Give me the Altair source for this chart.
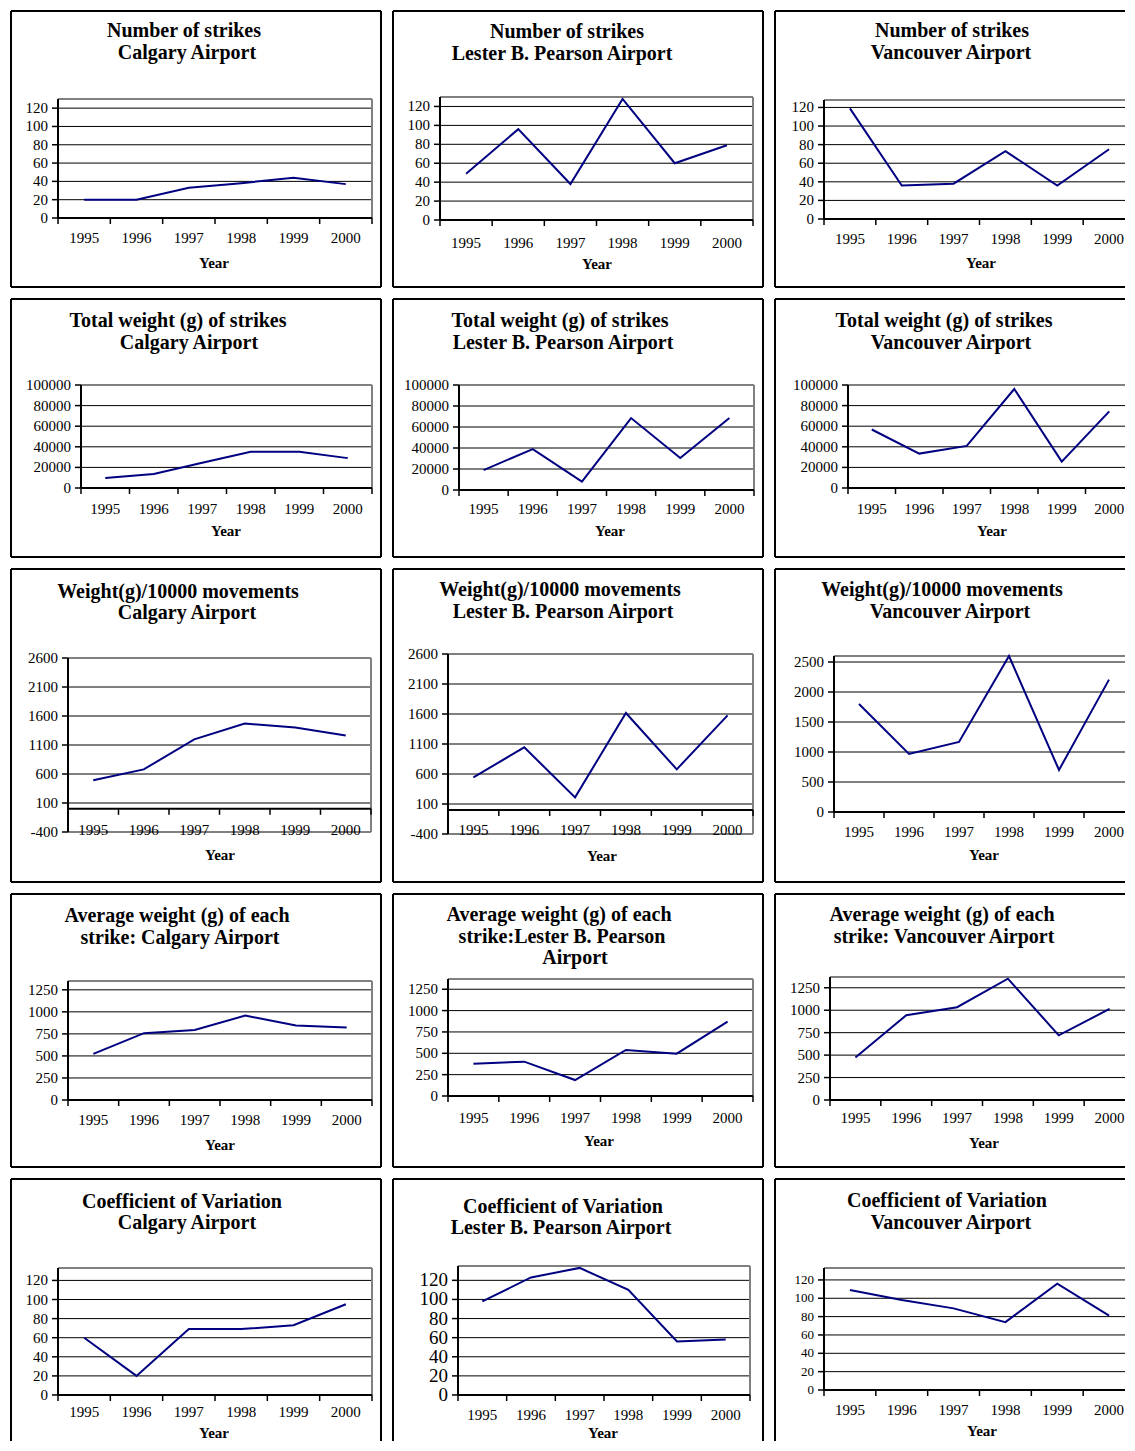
import altair as alt
import pandas as pd

# ---------------- data ----------------
years = ["1995", "1996", "1997", "1998", "1999", "2000"]

strikes_calgary = [20, 20, 33, 38, 44, 37]
strikes_pearson = [49, 96, 38, 128, 60, 79]
strikes_vancouver = [119, 36, 38, 73, 36, 75]

weight_calgary = [9800, 13700, 24500, 35200, 35200, 29000]
weight_pearson = [19000, 39000, 8000, 68500, 30500, 68500]
weight_vancouver = [56800, 33400, 40900, 96100, 25600, 74400]

per10k_calgary = [494, 679, 1198, 1470, 1400, 1262]
per10k_pearson = [544, 1044, 211, 1617, 678, 1578]
per10k_vancouver = [1800, 967, 1167, 2600, 700, 2206]

avg_calgary = [523, 758, 795, 958, 845, 822]
avg_pearson = [379, 402, 187, 539, 496, 871]
avg_vancouver = [474, 944, 1034, 1351, 720, 1015]

cov_calgary = [60, 20, 69, 69, 73, 95]
cov_pearson = [98, 123, 133, 110, 56, 58]
cov_vancouver = [109, 98, 89, 74, 116, 81]

ticks_strikes = [0, 20, 40, 60, 80, 100, 120]
ticks_weight = [0, 20000, 40000, 60000, 80000, 100000]
ticks_per10k_low = [-400, 100, 600, 1100, 1600, 2100, 2600]
ticks_per10k = [0, 500, 1000, 1500, 2000, 2500]
ticks_avg = [0, 250, 500, 750, 1000, 1250]
ticks_cov = [0, 20, 40, 60, 80, 100, 120]

titles_strikes = ["Number of strikes"]
titles_weight = ["Total weight (g) of strikes"]
titles_per10k = ["Weight(g)/10000 movements"]
titles_avg = ["Average weight (g) of each"]
titles_cov = ["Coefficient of Variation"]
airports = ["Calgary Airport", "Lester B. Pearson Airport", "Vancouver Airport"]
x_title = "Year"

# ---------------- style ----------------
FONT = "Liberation Serif"
NAVY = "#000080"
GRAY = "#808080"
COL_W = [372, 372, 352]
ROW_H = [278, 260, 315, 275, 263]

one = pd.DataFrame({"a": [0]})


def text_layer(t, cx, cy, size, bold=True):
    return alt.Chart(one).mark_text(
        text=t, font=FONT, fontSize=size, fontWeight="bold" if bold else "normal",
        color="black", align="center", baseline="middle"
    ).encode(x=alt.value(cx), y=alt.value(cy))


def hrule(x1, x2, y, color, w):
    return alt.Chart(one).mark_rule(color=color, strokeWidth=w).encode(
        x=alt.value(x1), x2=alt.value(x2), y=alt.value(y))


def vrule(x, y1, y2, color, w):
    return alt.Chart(one).mark_rule(color=color, strokeWidth=w).encode(
        x=alt.value(x), y=alt.value(y1), y2=alt.value(y2))


def panel(vals, dom, ticks, col, row, L, R, T, B, titles, xlab, year, ylab=15):
    W, H = COL_W[col], ROW_H[row]
    col3 = col == 2
    last_row = row == 4
    RE = W - 1 if col3 else R          # visible right end of the plot area
    df = pd.DataFrame({"year": years, "v": vals})
    ys = alt.Scale(domain=dom, range=[B, T], nice=False, zero=False)
    xs = alt.Scale(type="band", domain=years, range=[L, R], paddingInner=0, paddingOuter=0)
    y0 = B - (0 - dom[0]) / (dom[1] - dom[0]) * (B - T)

    tick_df = pd.DataFrame({"v": ticks, "lab": [str(t) for t in ticks]})
    grid_vals = [t for t in ticks if dom[0] < t < dom[1] and t != 0]
    layers = []
    layers.append(alt.Chart(pd.DataFrame({"v": grid_vals})).mark_rule(
        color="black", strokeWidth=1).encode(
        y=alt.Y("v:Q", scale=ys, axis=None), x=alt.value(L), x2=alt.value(RE)))

    # plot-area border (grey)
    layers.append(hrule(L, RE, T, GRAY, 2))
    if not col3:
        layers.append(vrule(R, T, B, GRAY, 2))
    if dom[0] < 0:
        layers.append(hrule(L, R, B, GRAY, 2))

    # y axis through the y scale
    layers.append(alt.Chart(tick_df).mark_rule(color="black", strokeWidth=1.5).encode(
        y=alt.Y("v:Q", scale=ys, axis=None), x=alt.value(L - 6), x2=alt.value(L)))
    layers.append(alt.Chart(tick_df).mark_text(
        font=FONT, fontSize=ylab, color="black", align="right", baseline="middle", dx=-10
    ).encode(y=alt.Y("v:Q", scale=ys, axis=None), x=alt.value(L), text="lab:N"))
    layers.append(vrule(L, T, B, "black", 2))

    # x axis through the band scale
    layers.append(hrule(L, RE, y0, "black", 2))
    layers.append(alt.Chart(df).mark_rule(color="black", strokeWidth=1.5).encode(
        x=alt.X("year:N", scale=xs, axis=None, bandPosition=0),
        y=alt.value(y0), y2=alt.value(y0 + 6)))
    if not col3:
        layers.append(vrule(R, y0, y0 + 6, "black", 1.5))
    layers.append(alt.Chart(df).mark_text(
        font=FONT, fontSize=15, color="black", align="center", baseline="middle"
    ).encode(x=alt.X("year:N", scale=xs, axis=None, bandPosition=0.5),
             y=alt.value(xlab), text="year:N"))

    # data line
    layers.append(alt.Chart(df).mark_line(color=NAVY, strokeWidth=2).encode(
        x=alt.X("year:N", scale=xs, axis=None, bandPosition=0.5),
        y=alt.Y("v:Q", scale=ys, axis=None)))

    # panel frame (kept inside the panel's own W x H box)
    ybot = H if last_row else H - 1
    layers.append(vrule(1, 1, ybot, "black", 2))
    layers.append(hrule(1, W - 1, 1, "black", 2))
    if not col3:
        layers.append(vrule(W - 1, 1, ybot, "black", 2))
    if not last_row:
        layers.append(hrule(1, W - 1, H - 1, "black", 2))

    for t, cx, cy in titles:
        layers.append(text_layer(t, cx, cy, 20))
    layers.append(text_layer(x_title, year[0], year[1], 15))

    return alt.layer(*layers).properties(width=W, height=H)


p = {}
p[0, 0] = panel(strikes_calgary, [0, 130], ticks_strikes, 0, 0, 48, 362, 89, 208,
                [(titles_strikes[0], 174, 21), (airports[0], 177, 43)], 228, (204, 253))
p[0, 1] = panel(strikes_pearson, [0, 130], ticks_strikes, 1, 0, 48, 361, 87, 210,
                [(titles_strikes[0], 175, 22), (airports[1], 170, 44)], 233, (205, 254))
p[0, 2] = panel(strikes_vancouver, [0, 128], ticks_strikes, 2, 0, 50, 361, 90, 209,
                [(titles_strikes[0], 178, 21), (airports[2], 177, 43)], 229, (207, 253))

p[1, 0] = panel(weight_calgary, [0, 100000], ticks_weight, 0, 1, 71, 362, 87, 190,
                [(titles_weight[0], 168, 23), (airports[0], 179, 45)], 211, (216, 233))
p[1, 1] = panel(weight_pearson, [0, 100000], ticks_weight, 1, 1, 67, 362, 87, 192,
                [(titles_weight[0], 168, 23), (airports[1], 171, 45)], 211, (218, 233))
p[1, 2] = panel(weight_vancouver, [0, 100000], ticks_weight, 2, 1, 74, 359, 87, 190,
                [(titles_weight[0], 170, 23), (airports[2], 177, 45)], 211, (218, 233))

p[2, 0] = panel(per10k_calgary, [-400, 2600], ticks_per10k_low, 0, 2, 58, 361, 90, 264,
                [(titles_per10k[0], 168, 24), (airports[0], 177, 45)], 262, (210, 287))
p[2, 1] = panel(per10k_pearson, [-400, 2600], ticks_per10k_low, 1, 2, 56, 361, 86, 266,
                [(titles_per10k[0], 168, 22), (airports[1], 171, 44)], 262, (210, 288))
p[2, 2] = panel(per10k_vancouver, [0, 2600], ticks_per10k, 2, 2, 60, 360, 88, 244,
                [(titles_per10k[0], 168, 22), (airports[2], 176, 44)], 264, (210, 287))

p[3, 0] = panel(avg_calgary, [0, 1350], ticks_avg, 0, 3, 58, 362, 88, 207,
                [(titles_avg[0], 167, 23), ("strike: Calgary Airport", 170, 45)], 227, (210, 252))
p[3, 1] = panel(avg_pearson, [0, 1370], ticks_avg, 1, 3, 56, 361, 86, 203,
                [(titles_avg[0], 167, 22), ("strike:Lester B. Pearson", 170, 44), ("Airport", 183, 65)],
                225, (207, 248))
p[3, 2] = panel(avg_vancouver, [0, 1370], ticks_avg, 2, 3, 56, 361, 84, 207,
                [(titles_avg[0], 168, 22), ("strike: Vancouver Airport", 170, 44)], 225, (210, 250))

p[4, 0] = panel(cov_calgary, [0, 133], ticks_cov, 0, 4, 48, 362, 90, 217,
                [(titles_cov[0], 172, 24), (airports[0], 177, 45)], 234, (204, 255), ylab=15)
p[4, 1] = panel(cov_pearson, [0, 135], ticks_cov, 1, 4, 66, 358, 88, 217,
                [(titles_cov[0], 171, 29), (airports[1], 169, 50)], 237, (211, 255), ylab=19)
p[4, 2] = panel(cov_vancouver, [0, 133], ticks_cov, 2, 4, 50, 361, 90, 212,
                [(titles_cov[0], 173, 23), (airports[2], 177, 45)], 232, (208, 253), ylab=13)

rows = [alt.hconcat(p[r, 0], p[r, 1], p[r, 2], spacing=10) for r in range(5)]
chart = alt.vconcat(*rows, spacing=10).properties(
    padding={"left": 2, "top": 2, "right": 0, "bottom": 0},
    background="white",
).configure_view(stroke=None)

chart.save("out.html", embed_options={"renderer": "svg", "actions": False})
